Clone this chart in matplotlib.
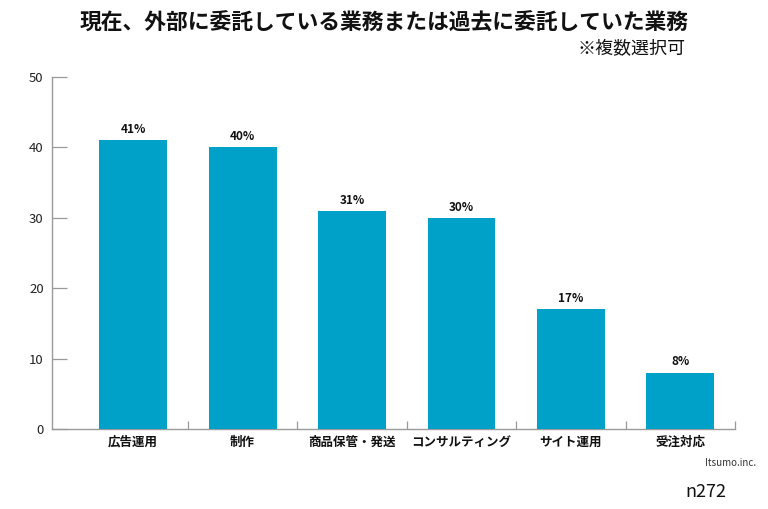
import matplotlib
matplotlib.use("Agg")
import matplotlib.pyplot as plt
import numpy as np

plt.rcParams['font.family'] = ['Noto Sans CJK JP', 'DejaVu Sans']

categories = ['広告運用', '制作', '商品保管・発送', 'コンサルティング', 'サイト運用', '受注対応']
values = [41, 40, 31, 30, 17, 8]
yticks = [0, 10, 20, 30, 40, 50]

BAR = '#00A1C9'
GREY = '#9a9a9a'

fig = plt.figure(figsize=(7.68, 5.09), dpi=100)
ax = fig.add_axes([52/768, 1-429/509, (735-52)/768, (429-77)/509])

x = np.arange(len(categories))
ax.bar(x, values, width=0.62, color=BAR, zorder=3)
for xi, v in zip(x, values):
    ax.text(xi, v + 0.6, f"{v}%", ha='center', va='bottom',
            fontsize=8.5, fontweight='bold', color='#111111')

ax.set_xlim(-0.742, 5.5)
ax.set_ylim(0, 50)
ax.set_yticks(yticks)
ax.set_yticklabels([str(t) for t in yticks], fontsize=9.5, color='#222222')
ax.tick_params(axis='y', direction='in', length=11, width=0.9, color=GREY, pad=6)

ax.set_xticks(x)
ax.set_xticklabels(categories, fontsize=9, fontweight='bold', color='#111111')
ax.tick_params(axis='x', which='major', length=0, pad=5)
ax.set_xticks(np.arange(0.5, len(categories)), minor=True)
ax.tick_params(axis='x', which='minor', direction='in', length=6, width=0.9, color=GREY)

for s in ('top', 'right'):
    ax.spines[s].set_visible(False)
for s in ('left', 'bottom'):
    ax.spines[s].set_color(GREY)
    ax.spines[s].set_linewidth(1.0)

fig.text(384/768, 1-23/509, "現在、外部に委託している業務または過去に委託していた業務",
         ha='center', va='center', fontsize=15.7, fontweight='bold', color='#111111')
fig.text(686/768, 1-49/509, "※複数選択可", ha='right', va='center',
         fontsize=13, color='#111111')
fig.text(756/768, 1-463/509, "Itsumo.inc.", ha='right', va='center',
         fontsize=7, color='#333333')
fig.text(726/768, 1-492/509, "n272", ha='right', va='center',
         fontsize=13, color='#111111')

fig.savefig("out.png", dpi=100)
